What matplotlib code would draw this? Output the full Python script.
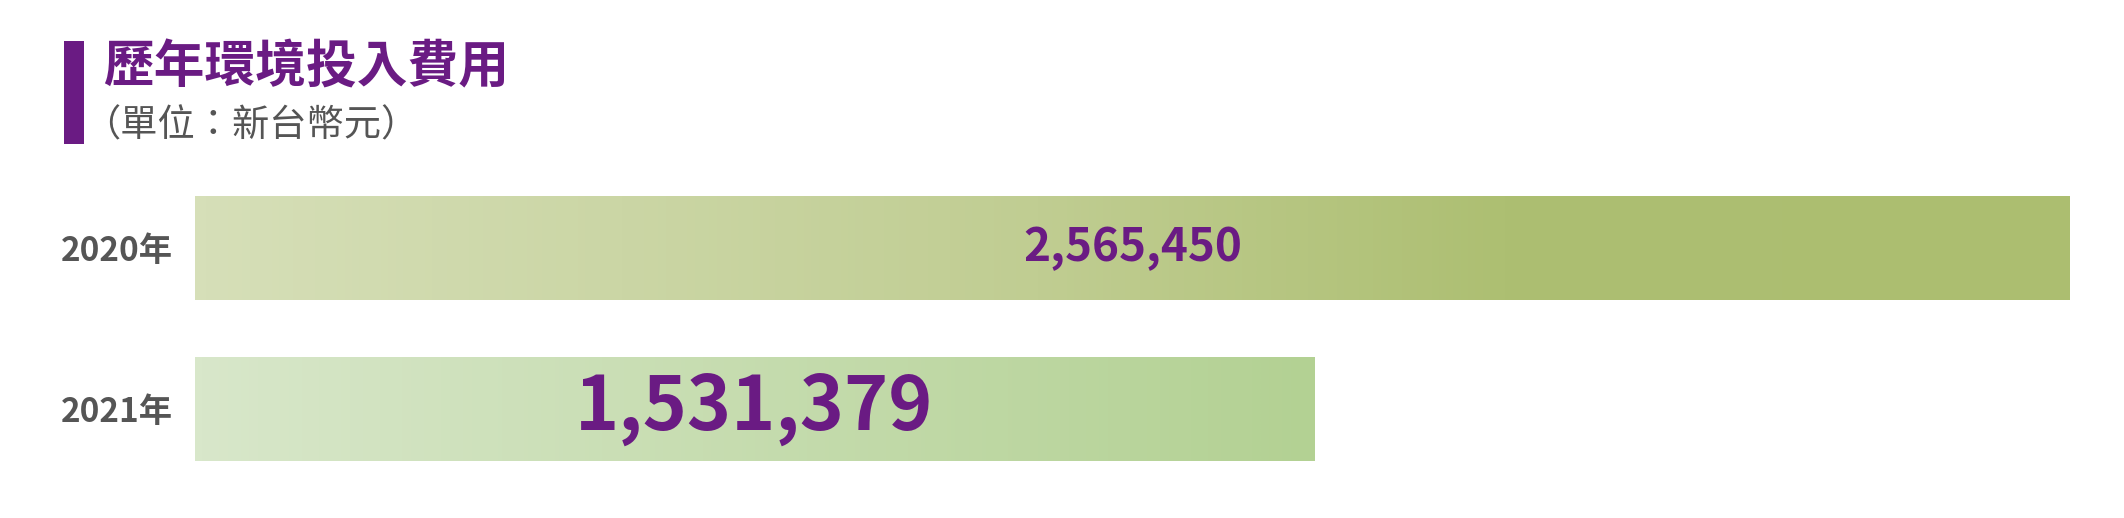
import numpy as np
import matplotlib
matplotlib.use("Agg")
from matplotlib import pyplot as plt
from matplotlib.colors import LinearSegmentedColormap

plt.rcParams['font.family'] = ['Noto Sans CJK TC', 'DejaVu Sans']

years = ["2020年", "2021年"]
costs = [2565450, 1531379]
cost_labels = ["2,565,450", "1,531,379"]
title = "歷年環境投入費用"
subtitle = "（單位：新台幣元）"

purple = "#6a1b83"
gray = "#555555"

# gradient stops for each bar (left -> right)
grad_2020 = [(0.0, "#d6dfb8"), (0.45, "#c0cd92"), (0.7, "#adbf72"), (1.0, "#acbe70")]
grad_2021 = [(0.0, "#d8e7ca"), (1.0, "#b3d193")]
label_sizes = [33, 54]

W, H = 2124, 518
fig = plt.figure(figsize=(W / 100, H / 100), dpi=100)

# title block
fig.patches.append(plt.Rectangle((64 / W, 1 - 144 / H), 20 / W, 103 / H,
                                 transform=fig.transFigure, color=purple, lw=0))
fig.text(103 / W, 1 - 68 / H, title, fontsize=36.5, fontweight='bold',
         color=purple, va='center', ha='left')
fig.text(83 / W, 1 - 126 / H, subtitle, fontsize=26.8, color=gray,
         va='center', ha='left')

ax = fig.add_axes([195 / W, 1 - 461 / H, (2070 - 195) / W, (461 - 196) / H])
ypos = np.arange(len(years))
bh = 0.65
bars = ax.barh(ypos, costs, height=bh, color='none', lw=0)
ax.set_xlim(0, max(costs))
ax.set_ylim(len(years) - 1 + bh / 2, -bh / 2)

for bar, stops, txt, fs in zip(bars, [grad_2020, grad_2021], cost_labels, label_sizes):
    cmap = LinearSegmentedColormap.from_list("g", stops)
    x0, y0 = bar.get_x(), bar.get_y()
    w, h = bar.get_width(), bar.get_height()
    img = ax.imshow(np.linspace(0, 1, 256).reshape(1, -1), cmap=cmap, aspect='auto',
                    extent=(x0, x0 + w, y0 + h, y0), interpolation='bicubic', zorder=1)
    img.set_clip_path(bar)
    ax.text(x0 + w / 2, y0 + h / 2, txt, fontsize=fs, fontweight='bold',
            color=purple, ha='center', va='center', zorder=3)

ax.set_xlim(0, max(costs))
ax.set_ylim(len(years) - 1 + bh / 2, -bh / 2)
ax.set_yticks(ypos)
ax.set_yticklabels(years, fontsize=24, fontweight='bold', color=gray)
ax.tick_params(axis='y', length=0, pad=16)
ax.set_xticks([])
for s in ax.spines.values():
    s.set_visible(False)

fig.savefig("out.png", dpi=100)
